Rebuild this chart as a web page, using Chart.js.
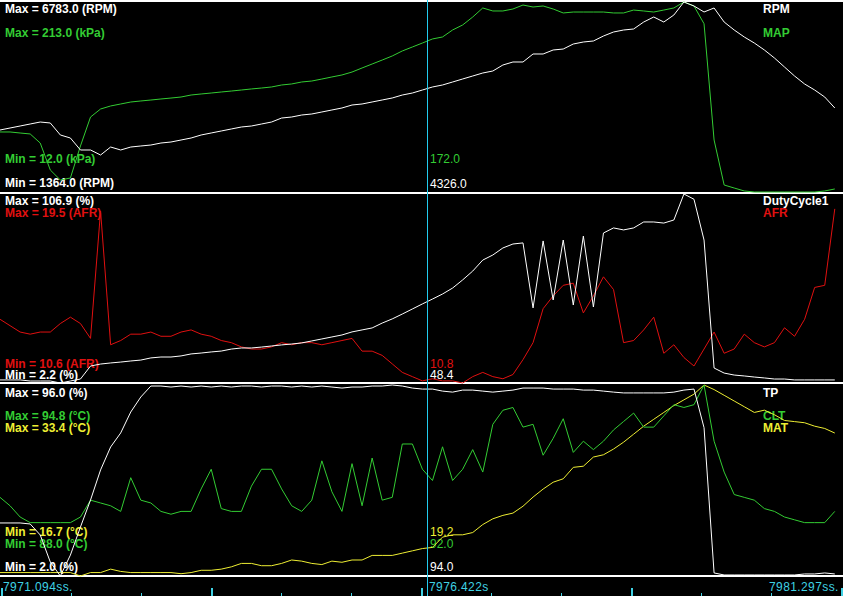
<!DOCTYPE html>
<html>
<head>
<meta charset="utf-8">
<title>Log viewer</title>
<script src="https://cdn.jsdelivr.net/npm/chart.js@4.4.1/dist/chart.umd.min.js"></script>
<style>
  html, body { margin: 0; padding: 0; background: #000; }
  #wrap { position: relative; width: 843px; height: 596px; background: #000; overflow: hidden;
          font-family: "Liberation Sans", Arial, sans-serif; font-size: 12px; }
  .sep { position: absolute; left: 0; width: 843px; background: #fff; }
  .txt { position: absolute; white-space: nowrap; line-height: 12px; }
  .b { font-weight: bold; }
  .t { letter-spacing: 0.4px; }
  canvas { position: absolute; left: 0; z-index: 1; }
</style>
</head>
<body>
<div id="wrap">
  <div class="sep" style="top:0;height:2px"></div>
  <div class="sep" style="top:192px;height:2px"></div>
  <div class="sep" style="top:382px;height:2px"></div>
  <div class="sep" style="top:575px;height:2px"></div>
  <canvas id="pane1" width="843" height="193" style="top:0"></canvas>
  <canvas id="pane2" width="843" height="191" style="top:193px"></canvas>
  <canvas id="pane3" width="843" height="212" style="top:384px"></canvas>
</div>
<script>
// log samples, one every ~0.1255 s
const sampleStart = 7971.094;
const sampleStep = 0.1255;

const RPM = [
  3132, 3189, 3246, 3303, 3360, 3332, 2990, 2904, 2562, 2562,
  2419, 2647, 2562, 2647, 2676, 2704, 2761, 2790, 2847, 2904,
  2990, 3047, 3104, 3161, 3218, 3246, 3303, 3360, 3474, 3503,
  3560, 3589, 3646, 3703, 3760, 3845, 3874, 3931, 3988, 4045,
  4130, 4187, 4273, 4359, 4416, 4501, 4587, 4672, 4758, 4815,
  4986, 5072, 5072, 5300, 5300, 5414, 5442, 5585, 5642, 5671,
  5813, 5927, 5984, 6013, 6212, 6355, 6212, 6412, 6783, 6669,
  6498, 6612, 6212, 5984, 5785, 5613, 5414, 5186, 4929, 4672,
  4444, 4273, 4073, 3760
];
const MAP = [
  75.5, 75.5, 74.4, 73.4, 63.8, 35.3, 24.7, 26.8, 60.7, 91.3,
  99.8, 103.0, 105.1, 107.2, 108.3, 109.3, 110.4, 111.4, 112.5, 114.6,
  115.7, 116.7, 117.8, 118.8, 119.9, 121.0, 122.0, 123.1, 125.2, 126.3,
  128.4, 129.4, 131.5, 133.7, 135.8, 138.9, 143.2, 147.4, 151.6, 155.9,
  161.2, 165.4, 169.6, 173.9, 176.0, 183.4, 188.7, 197.1, 206.7, 203.5,
  203.5, 205.6, 209.8, 207.7, 208.8, 205.6, 201.4, 202.4, 202.4, 202.4,
  202.4, 201.4, 201.4, 204.5, 203.5, 202.4, 204.5, 206.7, 213.0, 208.8,
  190.0, 67.0, 19.4, 16.2, 13.1, 12.0, 12.0, 12.0, 12.0, 12.0,
  12.0, 12.0, 13.1, 15.2
];
const DutyCycle1 = [
  3.9, 3.9, 3.9, 3.3, 3.3, 3.3, 2.2, 3.3, 4.4, 11.6,
  12.7, 13.3, 13.8, 14.4, 14.9, 16.1, 16.6, 16.6, 17.2, 18.3,
  18.8, 19.4, 19.9, 21.0, 21.6, 21.6, 22.1, 22.7, 23.3, 23.8,
  24.4, 25.5, 26.6, 27.7, 28.8, 30.5, 31.6, 32.7, 35.4, 37.7,
  40.4, 43.2, 46.0, 48.7, 51.5, 54.8, 59.3, 64.2, 70.3, 73.1,
  77.0, 79.2, 79.8, 43.8, 80.9, 48.2, 81.4, 45.4, 83.6, 44.3,
  85.3, 88.1, 87.0, 88.1, 91.4, 91.4, 90.8, 92.5, 106.9, 104.0,
  81.4, 10.5, 7.7, 6.6, 6.1, 5.5, 5.0, 4.4, 4.4, 3.9,
  3.9, 3.9, 3.9, 3.9
];
const AFR = [
  13.6, 13.3, 13.0, 12.9, 13.0, 13.0, 13.4, 13.7, 13.4, 12.7,
  18.7, 12.4, 12.6, 12.9, 12.9, 13.0, 12.8, 12.8, 13.0, 13.1,
  12.9, 12.8, 12.6, 12.5, 12.3, 12.2, 12.2, 12.3, 12.5, 12.4,
  12.5, 12.5, 12.4, 12.5, 12.6, 12.7, 12.1, 12.1, 11.9, 11.5,
  11.1, 10.9, 10.7, 10.8, 10.7, 10.7, 10.6, 10.9, 11.1, 10.9,
  10.8, 11.0, 11.7, 12.5, 14.1, 14.7, 15.2, 15.3, 13.9, 14.7,
  15.6, 15.0, 12.5, 12.6, 13.1, 13.7, 12.0, 12.4, 11.8, 11.4,
  12.2, 13.0, 12.0, 12.2, 12.9, 12.5, 12.3, 12.5, 13.2, 12.8,
  13.6, 15.1, 15.2, 18.8
];
const TP = [
  28.1, 28.1, 28.1, 27.6, 22.2, 8.9, 2.0, 12.3, 26.1, 39.4,
  54.2, 65.5, 72.4, 82.7, 90.1, 95.5, 95.5, 95.0, 95.5, 95.0,
  95.5, 95.0, 95.5, 95.0, 95.5, 95.5, 95.0, 95.5, 95.5, 95.0,
  95.5, 95.0, 95.5, 95.0, 94.5, 95.0, 95.0, 95.5, 95.5, 96.0,
  95.5, 94.5, 94.0, 94.0, 93.0, 92.5, 93.5, 93.5, 93.0, 92.5,
  93.0, 93.5, 94.5, 94.5, 94.5, 94.0, 94.0, 94.0, 93.5, 93.5,
  93.0, 92.5, 92.1, 92.1, 92.1, 92.1, 92.1, 92.5, 93.5, 94.0,
  75.0, 3.5, 2.5, 2.5, 2.5, 2.5, 2.5, 2.5, 2.5, 2.5,
  3.0, 3.0, 3.5, 3.0
];
const CLT = [
  90.8, 90.5, 90.1, 89.9, 89.9, 89.9, 89.9, 89.9, 90.1, 90.7,
  90.6, 90.5, 90.3, 91.5, 90.7, 90.6, 90.3, 90.2, 90.3, 90.3,
  91.1, 91.8, 90.4, 90.3, 90.3, 91.2, 91.8, 91.8, 91.1, 90.5,
  90.3, 90.7, 92.1, 91.0, 90.3, 92.0, 90.5, 92.2, 90.7, 90.8,
  92.7, 92.7, 91.8, 91.4, 92.6, 91.4, 91.8, 92.5, 91.7, 93.4,
  93.9, 94.0, 93.3, 93.4, 92.3, 92.9, 93.6, 92.4, 92.8, 92.5,
  92.8, 93.2, 93.5, 93.8, 93.3, 93.3, 93.7, 94.1, 94.0, 94.1,
  94.8, 92.8, 91.7, 90.9, 90.8, 90.7, 90.4, 90.3, 90.1, 90.0,
  89.9, 89.9, 89.9, 90.3
];
const MAT = [
  17.0, 17.0, 17.0, 17.0, 17.0, 17.0, 17.0, 17.0, 16.7, 17.0,
  17.0, 17.3, 17.1, 17.0, 17.0, 17.0, 17.0, 17.0, 16.9, 17.0,
  17.2, 17.2, 17.3, 17.5, 17.8, 17.8, 17.6, 17.6, 17.8, 18.1,
  18.0, 17.8, 17.7, 18.0, 17.9, 18.1, 18.1, 18.5, 18.5, 18.5,
  18.7, 18.9, 19.1, 19.2, 20.1, 20.3, 20.3, 20.5, 21.2, 21.7,
  22.0, 22.2, 22.8, 23.6, 24.3, 24.9, 25.2, 26.2, 26.3, 27.1,
  27.3, 27.8, 28.4, 29.1, 29.8, 30.4, 31.0, 31.6, 32.1, 32.6,
  33.4, 33.0, 32.5, 32.0, 31.5, 31.0, 31.2, 30.8, 30.3, 30.2,
  30.1, 29.8, 29.6, 29.2
];

// [min, max] of each channel over the log
const rpmRange = [1364.0, 6783.0];
const mapRange = [12.0, 213.0];
const dutyRange = [2.2, 106.9];
const afrRange = [10.6, 19.5];
const tpRange = [2.0, 96.0];
const cltRange = [88.0, 94.8];
const matRange = [16.7, 33.4];

// cursor and its readouts
const cursorTime = 7976.422;
const cursorReadout = ['172.0', '4326.0', '10.8', '48.4', '19.2', '92.0', '94.0'];

// time axis
const viewStart = 7971.094;
const viewEnd = 7981.613;
const timeLabels = ['7971.094ss.', '7976.422s', '7981.297ss.'];
const tickStart = 7971.103;
const tickStep = 0.8734;

const WHITE = '#ffffff';
const GREEN = '#33cc33';
const RED = '#e01010';
const YELLOW = '#eeee33';
const CYAN = '#3fd2e4';
const CURSOR = '#22ccee';

const time = RPM.map((_, i) => sampleStart + i * sampleStep);
const points = (series) => series.map((v, i) => ({ x: time[i], y: v }));

// vertical cursor, drawn as a solid 1px bar so it stays crisp
const cursorLine = {
    id: 'cursorLine',
    afterDraw(chart) {
        const ctx = chart.ctx;
        const x = Math.round(chart.scales.x.getPixelForValue(cursorTime));
        ctx.save();
        ctx.fillStyle = CURSOR;
        ctx.fillRect(x, 0, 1, chart.height);
        ctx.restore();
    }
};

const timeTicks = {
    id: 'timeTicks',
    afterDraw(chart) {
        const ctx = chart.ctx;
        const xs = chart.scales.x;
        ctx.save();
        ctx.fillStyle = CYAN;
        for (let k = 0, t = tickStart; t <= viewEnd; k++, t = tickStart + k * tickStep) {
            const x = Math.round(xs.getPixelForValue(t));
            const major = k % 3 === 0;
            const len = major ? 8 : 3;
            ctx.fillRect(x, chart.height - len, major ? 2 : 1, len);
        }
        ctx.restore();
    }
};

function makePane(id, series, padding, plugins) {
    const scales = {
        x: { type: 'linear', display: false, min: viewStart, max: viewEnd }
    };
    const datasets = series.map((s, i) => {
        scales['y' + i] = { display: false, min: s.range[0], max: s.range[1] };
        return {
            label: s.name,
            data: points(s.data),
            yAxisID: 'y' + i,
            borderColor: s.color,
            borderWidth: 1,
            pointRadius: 0,
            tension: 0,
            fill: false,
            clip: false,
        };
    });
    return new Chart(document.getElementById(id), {
        type: 'line',
        data: { datasets },
        options: {
            responsive: false,
            animation: false,
            devicePixelRatio: 1,
            layout: { padding },
            scales,
            plugins: { legend: { display: false }, tooltip: { enabled: false } },
        },
        plugins: plugins,
    });
}

makePane('pane1', [
    { name: 'RPM', data: RPM, range: rpmRange, color: WHITE },
    { name: 'MAP', data: MAP, range: mapRange, color: GREEN },
], { top: 2, bottom: 1, left: 0, right: 0 }, [cursorLine]);

makePane('pane2', [
    { name: 'DutyCycle1', data: DutyCycle1, range: dutyRange, color: WHITE },
    { name: 'AFR', data: AFR, range: afrRange, color: RED },
], { top: 1, bottom: 1, left: 0, right: 0 }, [cursorLine]);

makePane('pane3', [
    { name: 'TP', data: TP, range: tpRange, color: WHITE },
    { name: 'CLT', data: CLT, range: cltRange, color: GREEN },
    { name: 'MAT', data: MAT, range: matRange, color: YELLOW },
], { top: 1, bottom: 20, left: 0, right: 0 }, [cursorLine, timeTicks]);

// text overlays
const wrap = document.getElementById('wrap');
function label(text, color, x, y, cls) {
    const d = document.createElement('div');
    d.className = 'txt ' + cls;
    d.style.left = x + 'px';
    d.style.top = y + 'px';
    d.style.color = color;
    d.textContent = text;
    wrap.appendChild(d);
}
const f = (v) => v.toFixed(1);

label('Max = ' + f(rpmRange[1]) + ' (RPM)', WHITE, 5, 3, 'b');
label('Max = ' + f(mapRange[1]) + ' (kPa)', GREEN, 5, 27, 'b');
label('Min = ' + f(mapRange[0]) + ' (kPa)', GREEN, 5, 153, 'b');
label('Min = ' + f(rpmRange[0]) + ' (RPM)', WHITE, 5, 177, 'b');
label('RPM', WHITE, 763, 3, 'b');
label('MAP', GREEN, 763, 27, 'b');
label(cursorReadout[0], GREEN, 430, 153, '');
label(cursorReadout[1], WHITE, 430, 178, '');

label('Max = ' + f(dutyRange[1]) + ' (%)', WHITE, 5, 195, 'b');
label('Max = ' + f(afrRange[1]) + ' (AFR)', RED, 5, 207, 'b');
label('Min = ' + f(afrRange[0]) + ' (AFR)', RED, 5, 358, 'b');
label('Min = ' + f(dutyRange[0]) + ' (%)', WHITE, 5, 369, 'b');
label('DutyCycle1', WHITE, 763, 195, 'b');
label('AFR', RED, 763, 207, 'b');
label(cursorReadout[2], RED, 430, 358, '');
label(cursorReadout[3], WHITE, 430, 369, '');

label('Max = ' + f(tpRange[1]) + ' (%)', WHITE, 5, 387, 'b');
label('Max = ' + f(cltRange[1]) + ' (°C)', GREEN, 5, 410, 'b');
label('Max = ' + f(matRange[1]) + ' (°C)', YELLOW, 5, 422, 'b');
label('Min = ' + f(matRange[0]) + ' (°C)', YELLOW, 5, 526, 'b');
label('Min = ' + f(cltRange[0]) + ' (°C)', GREEN, 5, 538, 'b');
label('Min = ' + f(tpRange[0]) + ' (%)', WHITE, 5, 561, 'b');
label('TP', WHITE, 763, 387, 'b');
label('CLT', GREEN, 763, 410, 'b');
label('MAT', YELLOW, 763, 422, 'b');
label(cursorReadout[4], YELLOW, 430, 526, '');
label(cursorReadout[5], GREEN, 430, 538, '');
label(cursorReadout[6], WHITE, 430, 561, '');

label(timeLabels[0], CYAN, 3, 581, 't');
label(timeLabels[1], CYAN, 429, 581, 't');
label(timeLabels[2], CYAN, 769, 581, 't');
</script>
</body>
</html>
